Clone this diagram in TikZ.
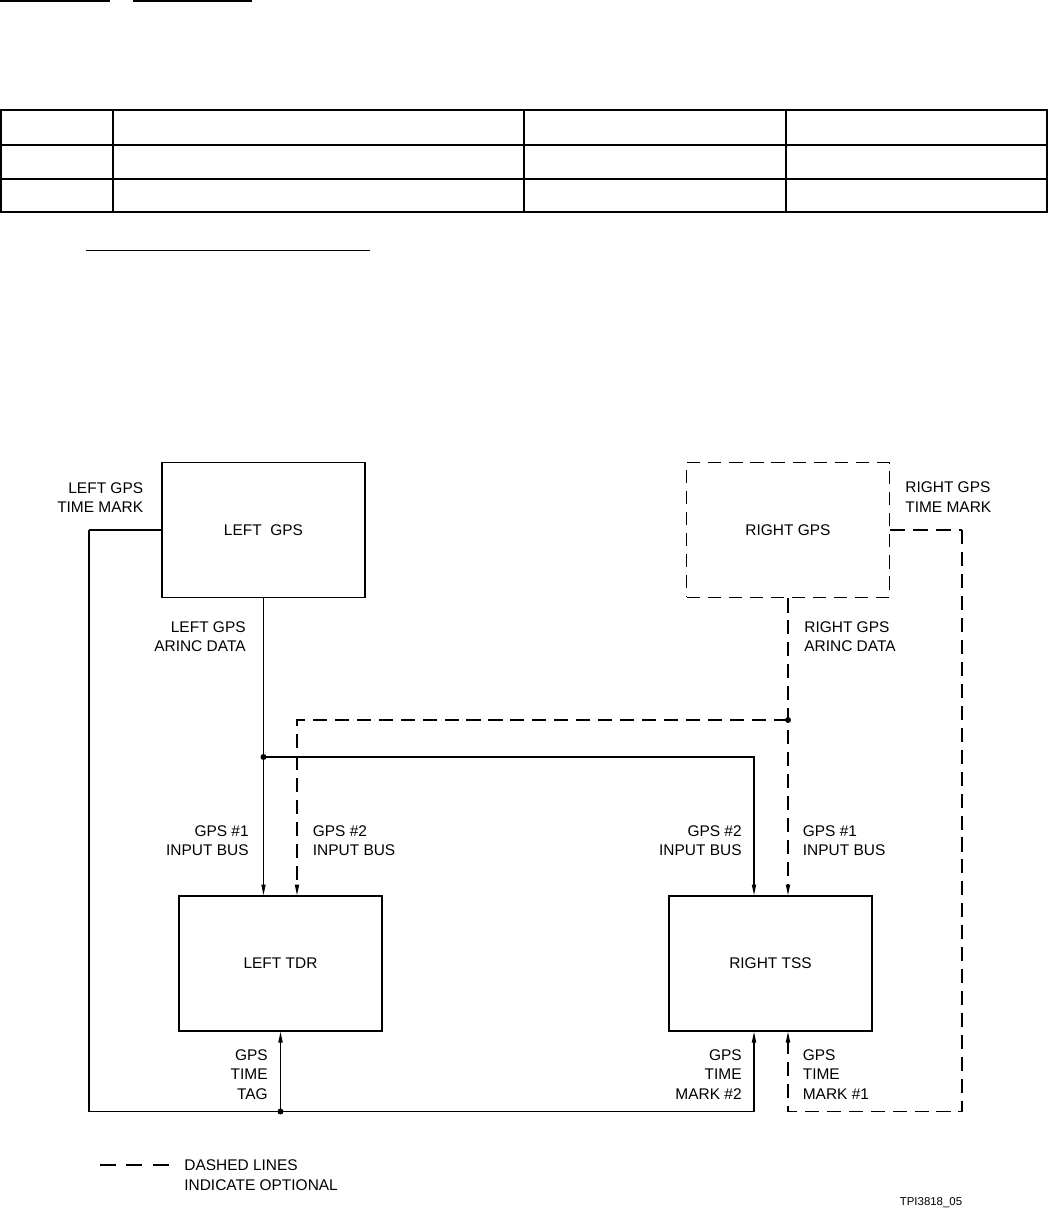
\documentclass[tikz,border=0pt]{standalone}
\usepackage{fontspec}
\setmainfont{Liberation Sans}
\usetikzlibrary{arrows.meta,positioning}
\tikzset{
  unit/.style={draw,line width=1.1pt,inner sep=0pt,minimum width=4.06cm,minimum height=2.7cm},
  optunit/.style={unit,dash pattern=on 7.5pt off 4.5pt},
  wire/.style={line width=0.6pt},
  optwire/.style={wire,dash pattern=on 8pt off 4.5pt},
  feed/.style={-{Triangle[length=6pt,width=2.4pt]}},
  rule/.style={line width=1.1pt},
  lblR/.style={inner sep=0pt,align=right,anchor=east},
  lblL/.style={inner sep=0pt,align=left,anchor=west}
}
\begin{document}
\begin{tikzpicture}[x=0.02cm,y=-0.02cm,font=\fontsize{8.8}{11}\selectfont]
\useasboundingbox (0,0) rectangle (1049,1217);
\draw[rule] (0,1)--(110,1) (133,1)--(252,1);
\draw[rule] (1,110) rectangle (1047,212);
\draw[rule] (1,145)--(1047,145) (1,179)--(1047,179)
  (113,110)--(113,212) (524,110)--(524,212) (786,110)--(786,212);
\draw[line width=0.9pt] (86,250.5)--(370,250.5);

\node[unit] (lgps) at (263.5,530) {LEFT~~GPS};
\node[optunit] (rgps) at (788,530) {RIGHT GPS};
\node[unit] (ltdr) at (280.5,963.5) {LEFT TDR};
\node[unit] (rtss) at (770.5,963.5) {RIGHT TSS};

\coordinate (busA) at (lgps.south |- 0,757);
\coordinate (busB) at (rgps.south |- 0,720);
\coordinate (tmA) at (89,1111.5);
\coordinate (tmB) at (962,1111.5);

\draw[wire,feed] (lgps.south) -- (lgps.south |- ltdr.north);
\draw[wire,feed] (busA) -| ([xshift=-0.33cm]rtss.north);
\draw[optwire,feed] (rgps.south) -- (rgps.south |- rtss.north);
\draw[optwire,feed] (busB) -| ([xshift=0.33cm]ltdr.north);
\draw[rule] (lgps.west) -- (lgps.west -| tmA);
\draw[wire,feed] (lgps.west -| tmA) -- (tmA) -| ([xshift=-0.33cm]rtss.south);
\draw[wire,feed] (ltdr.south |- tmA) -- (ltdr.south);
\draw[rule,dash pattern=on 8.5pt off 4.5pt] (rgps.east) -- (rgps.east -| tmB);
\draw[optwire,feed] (rgps.east -| tmB) -- (tmB) -| (rgps.south |- rtss.south);
\fill (busA) circle (1.7pt) (busB) circle (1.7pt) (ltdr.south |- tmA) circle (1.7pt);

\node[lblR] (lgpsTm) at (143.5,497.5) {LEFT GPS\\TIME MARK};
\node[lblL] (rgpsTm) at (905,497) {RIGHT GPS\\TIME MARK};
\node[lblR] (lgpsDat) at (246,636.5) {LEFT GPS\\ARINC DATA};
\node[lblL] (rgpsDat) at (804,636.5) {RIGHT GPS\\ARINC DATA};
\node[lblR] (tdrIn1) at (249,841) {GPS \#1\\INPUT BUS};
\node[lblL] (tdrIn2) at (312.5,841) {GPS \#2\\INPUT BUS};
\node[lblR] (tssIn2) at (742,841) {GPS \#2\\INPUT BUS};
\node[lblL] (tssIn1) at (802.5,841) {GPS \#1\\INPUT BUS};
\node[lblR] (tdrTag) at (268,1074.5) {GPS\\TIME\\TAG};
\node[lblR] (tssTm2) at (742,1074.5) {GPS\\TIME\\MARK \#2};
\node[lblL] (tssTm1) at (802.5,1074.5) {GPS\\TIME\\MARK \#1};

\coordinate (keyA) at (100,1165);
\coordinate (keyB) at (170,1165);
\draw[wire,dash pattern=on 9pt off 6pt] (keyA) -- (keyB);
\node[lblL] (keyTxt) at (184,1175) {DASHED LINES\\INDICATE OPTIONAL};
\node[inner sep=0pt,font=\fontsize{6.5}{8}\selectfont] (figId) at (931,1203) {TPI3818\_05};
\end{tikzpicture}
\end{document}
